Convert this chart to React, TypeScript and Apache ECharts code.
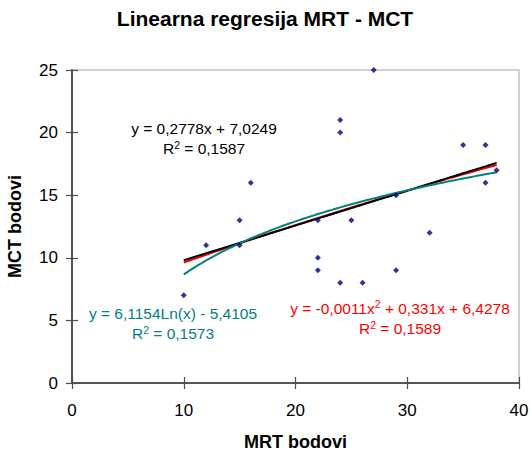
import { useEffect, useRef } from 'react';
import * as echarts from 'echarts';

// MRT (x) and MCT (y) scores
const mrt = [10, 12, 15, 15, 16, 22, 22, 22, 24, 24, 24, 25, 26, 27, 29, 29, 32, 35, 37, 37, 38];
const mct = [7, 11, 13, 11, 16, 13, 10, 9, 21, 20, 8, 13, 8, 25, 15, 9, 12, 19, 19, 16, 17];

// trendline coefficients as printed on the chart
const linCoef = [0.2778, 7.0249]; // y = a x + b
const polyCoef = [-0.0011, 0.331, 6.4278]; // y = a x^2 + b x + c
const logCoef = [6.1154, -5.4105]; // y = a ln(x) + b

// tick values
const xTicks = { min: 0, max: 40, interval: 10 };
const yTicks = { min: 0, max: 25, interval: 5 };

// equation texts
const linEq = ['y = 0,2778x + 7,0249', '0,1587'];
const logEq = ['y = 6,1154Ln(x) - 5,4105', '0,1573'];
const polyEq = ['y = -0,0011x', ' + 0,331x + 6,4278', '0,1589'];

const FONT = '"Liberation Sans", Arial, sans-serif';

function sample(fn: (x: number) => number): number[][] {
  const lo = Math.min(...mrt);
  const hi = Math.max(...mrt);
  const out: number[][] = [];
  for (let x = lo; x <= hi + 1e-9; x += 0.25) out.push([x, fn(x)]);
  return out;
}

export default function App() {
  const ref = useRef<HTMLDivElement>(null);
  useEffect(() => {
    if (!ref.current) return;
    const chart = echarts.init(ref.current, null, { renderer: 'svg' });
    const axisColor = '#4d4d4d';
    const eqSize = 15.5;
    const rich = (fill: string) => ({
      n: { fontSize: eqSize, fontFamily: FONT, lineHeight: 19, fill },
      s: { fontSize: 10.5, fontFamily: FONT, lineHeight: 19, verticalAlign: 'top', fill, padding: [0, 0, 6, 0] },
    });
    const txt = (x: number, y: number, text: string, fill: string) => ({
      type: 'text',
      x,
      y,
      silent: true,
      style: {
        text,
        fill,
        fontSize: eqSize,
        fontFamily: FONT,
        align: 'center',
        verticalAlign: 'middle',
        rich: rich(fill),
      },
    });
    const teal = '#008080';
    const red = '#ff0000';
    const option: any = {
      animation: false,
      backgroundColor: '#ffffff',
      title: {
        text: 'Linearna regresija MRT - MCT',
        left: 'center',
        top: 8,
        padding: 0,
        textStyle: { fontSize: 21, fontWeight: 'bold', fontFamily: FONT, color: '#000' },
      },
      grid: {
        left: 72,
        right: 11,
        top: 70,
        bottom: 71,
        show: true,
        borderColor: '#c4c4c4',
        borderWidth: 1.5,
        backgroundColor: 'transparent',
        outerBoundsMode: 'none',
        containLabel: false,
      },
      xAxis: [
        {
          type: 'value',
          ...xTicks,
          position: 'bottom',
          name: 'MRT bodovi',
          nameLocation: 'middle',
          nameGap: 50,
          nameTextStyle: { fontSize: 18, fontWeight: 'bold', fontFamily: FONT, color: '#000' },
          axisLine: { show: true, onZero: false, lineStyle: { color: axisColor, width: 1.5 } },
          axisTick: { show: true, inside: false, length: 6, lineStyle: { color: axisColor, width: 1.2 } },
          axisLabel: { margin: 19, fontSize: 17, color: '#000', fontFamily: FONT },
          splitLine: { show: false },
        },
        {
          type: 'value',
          ...xTicks,
          position: 'top',
          axisLine: { show: true, onZero: true, onZeroAxisIndex: 0, lineStyle: { color: axisColor, width: 1.5 } },
          axisTick: { show: true, inside: false, length: 6, lineStyle: { color: axisColor, width: 1.2 } },
          axisLabel: { show: false },
          splitLine: { show: false },
        },
      ],
      yAxis: [
        {
          type: 'value',
          ...yTicks,
          position: 'left',
          name: 'MCT bodovi',
          nameLocation: 'middle',
          nameGap: 48,
          nameRotate: 90,
          nameTextStyle: { fontSize: 18, fontWeight: 'bold', fontFamily: FONT, color: '#000' },
          axisLine: { show: true, onZero: false, lineStyle: { color: axisColor, width: 1.5 } },
          axisTick: { show: true, inside: false, length: 6, lineStyle: { color: axisColor, width: 1.2 } },
          axisLabel: { margin: 14, fontSize: 17, color: '#000', fontFamily: FONT },
          splitLine: { show: false },
        },
        {
          type: 'value',
          ...yTicks,
          position: 'right',
          axisLine: { show: true, onZero: true, onZeroAxisIndex: 0, lineStyle: { color: axisColor, width: 1.5 } },
          axisTick: { show: true, inside: false, length: 6, lineStyle: { color: axisColor, width: 1.2 } },
          axisLabel: { show: false },
          splitLine: { show: false },
        },
      ],
      series: [
        {
          type: 'line',
          name: 'poly',
          xAxisIndex: 0,
          yAxisIndex: 0,
          data: sample((x) => polyCoef[0] * x * x + polyCoef[1] * x + polyCoef[2]),
          symbol: 'none',
          lineStyle: { color: red, width: 2 },
        },
        {
          type: 'line',
          name: 'linear',
          xAxisIndex: 0,
          yAxisIndex: 0,
          data: sample((x) => linCoef[0] * x + linCoef[1]),
          symbol: 'none',
          lineStyle: { color: '#000000', width: 2 },
        },
        {
          type: 'line',
          name: 'log',
          xAxisIndex: 0,
          yAxisIndex: 0,
          data: sample((x) => logCoef[0] * Math.log(x) + logCoef[1]),
          symbol: 'none',
          lineStyle: { color: teal, width: 2 },
        },
        {
          type: 'scatter',
          name: 'MCT',
          xAxisIndex: 0,
          yAxisIndex: 0,
          data: mrt.map((x, i) => [x, mct[i]]),
          symbol: 'diamond',
          symbolSize: 6,
          itemStyle: { color: '#000080' },
          z: 5,
        },
      ],
      graphic: [
        txt(204, 128, `{n|${linEq[0]}}`, '#000000'),
        txt(204, 148.5, `{n|R}{s|2}{n| = ${linEq[1]}}`, '#000000'),
        txt(173, 313, `{n|${logEq[0]}}`, teal),
        txt(173, 333.5, `{n|R}{s|2}{n| = ${logEq[1]}}`, teal),
        txt(400, 308, `{n|${polyEq[0]}}{s|2}{n|${polyEq[1]}}`, red),
        txt(400, 328.5, `{n|R}{s|2}{n| = ${polyEq[2]}}`, red),
      ],
    };
    chart.setOption(option);
    return () => chart.dispose();
  }, []);
  return (
    <div
      ref={ref}
      style={{ position: 'absolute', left: 0, top: 0, width: 530, height: 454, background: '#fff' }}
    />
  );
}
